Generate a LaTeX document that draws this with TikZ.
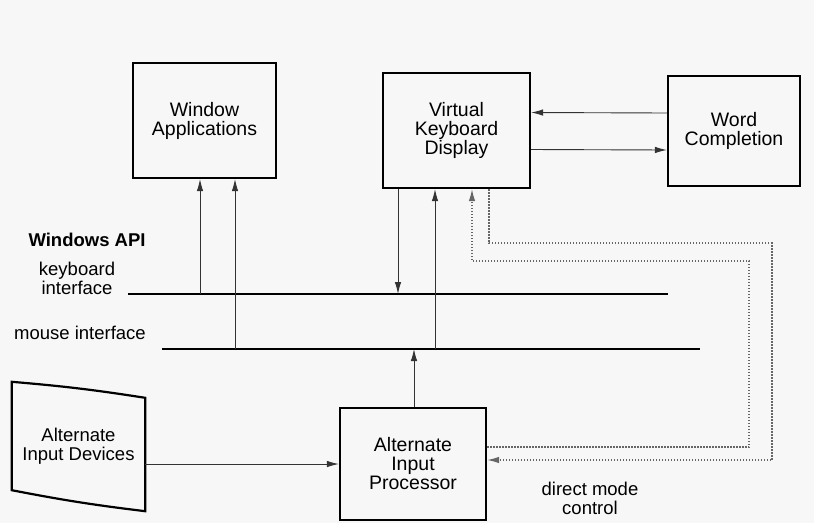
\documentclass[tikz,border=0pt]{standalone}
\usepackage{fontspec}
\setmainfont{Liberation Sans}
\usepackage{tikz}
\usetikzlibrary{arrows.meta, positioning}

\begin{document}
\begin{tikzpicture}[x=1pt, y=-1pt,
      box/.style={draw, line width=2.2pt, align=center,
                  font=\fontsize{19.5}{19}\selectfont},
      lbl/.style={align=center, font=\fontsize{18.5}{19}\selectfont},
      iface/.style={line width=2.6pt},
      arr/.style={-{Latex[length=12pt, width=6.5pt]}, line width=0.9pt, black!80},
      darr/.style={-{Latex[length=12pt, width=6.5pt]}, line width=1.3pt, black!60,
                   dash pattern=on 1.4pt off 1.6pt}
    ]

    \useasboundingbox[fill=black!3] (0,0) rectangle (814,523);

    %% ---- boxes ----
    \node[box, minimum width=143pt, minimum height=115pt] at (204.5,120.5) (wa)
          {Window\\Applications};
    \node[box, minimum width=147pt, minimum height=115pt] at (456.5,130.5) (vkd)
          {Virtual\\Keyboard\\Display};
    \node[box, minimum width=132pt, minimum height=110pt] at (734,131) (wc)
          {Word\\Completion};
    \node[box, minimum width=146pt, minimum height=112pt] at (413,464) (aip)
          {Alternate\\Input\\Processor};

    %% devices (skewed outline drawn round the node)
    \node[lbl, minimum width=133pt, minimum height=129pt] at (78.5,446.5) (aid)
          {Alternate\\Input Devices};
    \draw[line width=2.2pt] (aid.north west) to[bend left=2] ([yshift=-16pt]aid.north east)
          -- (aid.south east) to[bend left=2] ([yshift=21pt]aid.south west) -- cycle;

    %% ---- Windows API ----
    \node[lbl, anchor=west, font=\fontsize{18.5}{19}\selectfont\bfseries] at (25,240) (api)
          {Windows API};
    \node[lbl] at (77,278) (kbtxt) {keyboard\\interface};
    \node[lbl] at (80,333) (mstxt) {mouse interface};

    \coordinate (kbL) at (128,294);
    \coordinate (kbR) at (668,294);
    \coordinate (msL) at (162,349);
    \coordinate (msR) at (700,349);
    \draw[iface] (kbL) -- (kbR);
    \draw[iface] (msL) -- (msR);

    %% points on the interface lines
    \coordinate (kb1) at (200,294);
    \coordinate (kb2) at (398,294);
    \coordinate (ms1) at (235,349);
    \coordinate (ms2) at (435,349);
    \coordinate (ms3) at (414,349);

    %% ---- edges ----
    \draw[arr] (kb1) -- (kb1 |- wa.south);
    \draw[arr] (ms1) -- (ms1 |- wa.south);
    \draw[arr] (kb2 |- vkd.south) -- (kb2);
    \draw[arr] (ms2) -- (ms2 |- vkd.south);
    \draw[arr] (ms3 |- aip.north) -- (ms3);

    %% devices -> processor
    \draw[arr] (aid.east |- aip.west) -- (aip.west);

    %% keyboard display <-> word completion
    \draw[arr] ([yshift=18pt]wc.west) -- ([yshift=18pt]vkd.east);
    \draw[arr] ([yshift=-19pt]vkd.east) -- ([yshift=-19pt]wc.west);

    %% dotted loops (direct mode)
    \draw[darr] ([yshift=17pt]aip.east) -- ++(262,0) -- ++(0,-186)
          -| ([xshift=15.5pt]vkd.south);
    \draw[darr] ([xshift=32.5pt]vkd.south) -- ++(0,54) -- ++(283,0)
          |- ([yshift=4pt]aip.east);

    \node[lbl] at (590,498) (dmc) {direct mode\\control};

  \end{tikzpicture}
\end{document}
